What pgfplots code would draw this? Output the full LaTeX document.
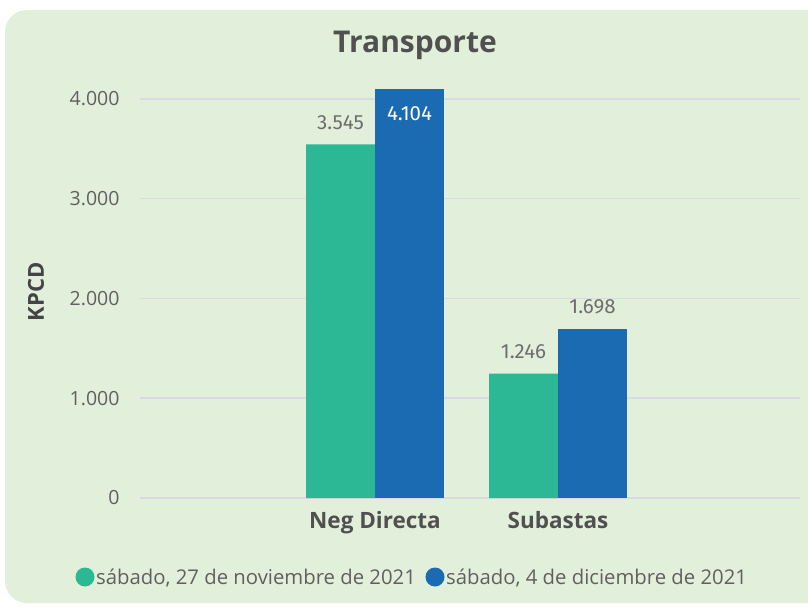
\documentclass[border=0pt]{standalone}
\usepackage{pgfplots}
\pgfplotsset{compat=1.18}
\usepackage{fontspec}
\setmainfont{Open Sans}
\newfontfamily\labfont{Fira Sans}
\definecolor{bg}{RGB}{226,239,218}
\definecolor{cgreen}{RGB}{44,184,148}
\definecolor{cblue}{RGB}{27,107,179}
\definecolor{gridc}{RGB}{218,219,224}
\definecolor{txt}{RGB}{96,96,96}
\definecolor{ttl}{RGB}{80,80,80}
\definecolor{lab}{RGB}{110,110,110}
\begin{document}
\begin{tikzpicture}[x=1pt,y=1pt]
\path[use as bounding box] (0,0) rectangle (808,606);
\fill[white] (0,0) rectangle (808,606);
\fill[bg, rounded corners=22pt] (5,3) rectangle (850,596);
\node[font=\bfseries\fontsize{30}{34}\selectfont, text=ttl] at (415,561) {Transporte};
\node[font=\bfseries\fontsize{22}{26}\selectfont, text=ttl!85!black, rotate=90] at (36,314) {KPCD};
\begin{axis}[
  at={(140pt,108pt)}, anchor=south west,
  scale only axis, width=660pt, height=414pt,
  xmin=-1.284, xmax=2.322, ymin=0, ymax=4150,
  axis line style={draw=none},
  major tick length=0pt,
  ymajorgrids, grid style={gridc, line width=1.5pt},
  xtick={0,1}, xticklabels={Neg Directa, Subastas},
  ytick={0,1000,2000,3000,4000},
  /pgf/number format/.cd, 1000 sep={.}, fixed, precision=0, assume math mode=true,
  /pgfplots/.cd,
  xticklabel style={font=\bfseries\fontsize{22.5}{26}\selectfont, text=ttl, yshift=-10pt},
  yticklabel style={font=\fontsize{19.5}{23}\selectfont, text=txt, anchor=east, xshift=-17pt},
  clip=false,
]
\addplot[ybar, bar width=69pt, bar shift=-34.5pt, fill=cgreen, draw=none,
  nodes near coords, every node near coord/.append style={font=\labfont\fontsize{20.5}{24}\selectfont, text=lab, anchor=south, yshift=11pt, xshift=-34.5pt}]
  coordinates {(0,3545) (1,1246)};
\addplot[ybar, bar width=69pt, bar shift=34.5pt, fill=cblue, draw=none,
  nodes near coords, every node near coord/.append style={font=\labfont\fontsize{20.5}{24}\selectfont, text=white, anchor=north, yshift=-14pt, xshift=34.5pt}]
  coordinates {(0,4104)};
\addplot[ybar, bar width=69pt, bar shift=34.5pt, fill=cblue, draw=none,
  nodes near coords, every node near coord/.append style={font=\labfont\fontsize{20.5}{24}\selectfont, text=lab, anchor=south, yshift=11pt, xshift=34.5pt}]
  coordinates {(1,1698)};
\end{axis}
\fill[cgreen] (85,29) circle (9.5);
\node[anchor=west, font=\fontsize{20.3}{24}\selectfont, text=txt, inner sep=0pt] at (96,28) {sábado, 27 de noviembre de 2021};
\fill[cblue] (435,29) circle (9.5);
\node[anchor=west, font=\fontsize{20.3}{24}\selectfont, text=txt, inner sep=0pt] at (446,28) {sábado, 4 de diciembre de 2021};
\end{tikzpicture}
\end{document}
